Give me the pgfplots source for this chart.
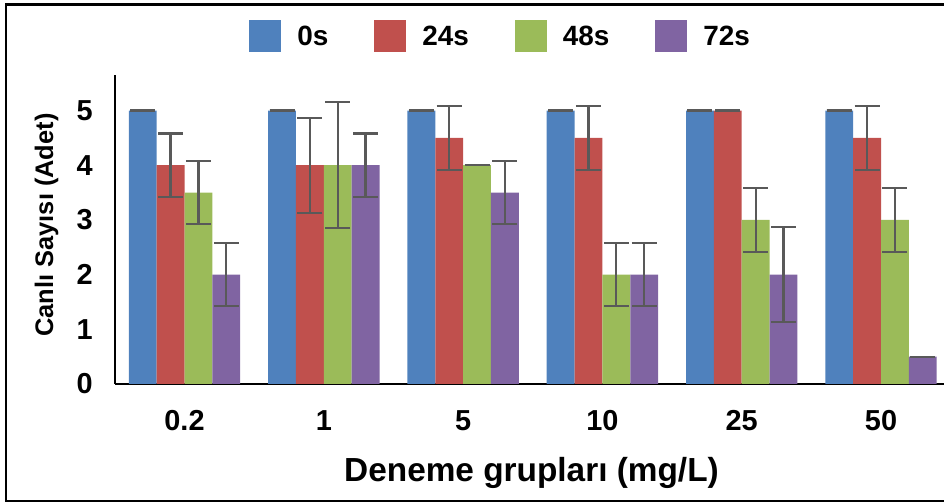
\documentclass[border=0pt]{standalone}
\usepackage{pgfplots}
\usepackage{pgfplotstable}
\pgfplotsset{compat=1.18}
\usepackage{fontspec}
\setmainfont{Liberation Sans}
\definecolor{c0}{HTML}{4F81BD}
\definecolor{c1}{HTML}{C0504D}
\definecolor{c2}{HTML}{9BBB59}
\definecolor{c3}{HTML}{8064A2}
\definecolor{errc}{HTML}{595959}
\pgfplotstableread{
x y e
0 5 0
1 5 0
2 5 0
3 5 0
4 5 0
5 5 0
}\tzero
\pgfplotstableread{
x y e
0 4 0.58
1 4 0.87
2 4.5 0.58
3 4.5 0.58
4 5 0
5 4.5 0.58
}\ttwentyfour
\pgfplotstableread{
x y e
0 3.5 0.58
1 4 1.15
2 4 0
3 2 0.58
4 3 0.58
5 3 0.58
}\tfortyeight
\pgfplotstableread{
x y e
0 2 0.58
1 4 0.58
2 3.5 0.58
3 2 0.58
4 2 0.87
5 0.5 0
}\tseventytwo
\begin{document}
\begin{tikzpicture}
\useasboundingbox (0bp,0bp) rectangle (944bp,503bp);
\draw[line width=2.5bp] (950bp,498.5bp) -- (6bp,498.5bp) -- (6bp,2bp) -- (950bp,2bp);
\begin{axis}[
  at={(114.85bp,119bp)}, anchor=south west,
  scale only axis, width=828.85bp, height=309bp,
  xmin=-0.5, xmax=5.45, ymin=0, ymax=5.65,
  axis lines*=left,
  axis line style={line width=2bp, black},
  xtick={0,...,5}, xticklabels={0.2,1,5,10,25,50},
  ytick={0,...,5},
  major tick length=0pt,
  /pgf/number format/assume math mode=true,
  yticklabel style={font=\bfseries\fontsize{29}{30}\selectfont, anchor=east, inner sep=0pt, xshift=-22bp},
  xticklabel style={font=\bfseries\fontsize{29}{30}\selectfont, anchor=center, inner sep=0pt, yshift=-37bp},
  clip=false,
  legend columns=4,
  legend style={draw=none, fill=none, at={(0.4642,1.126)}, anchor=center,
    inner sep=0pt, outer sep=0pt,
    font=\bfseries\fontsize{28}{28}\selectfont,
    nodes={inner sep=0pt},
    /tikz/every odd column/.append style={column sep=16bp},
    /tikz/every even column/.append style={column sep=46bp}},
  error bars/y dir=both, error bars/y explicit,
  error bars/error bar style={line width=2.2bp, draw=errc},
  error bars/error mark options={rotate=90, line width=2.2bp, mark size=12.5bp, draw=errc},
]
\addplot[ybar, bar width=0.2, bar shift=0, fill=c0, draw=none,
  legend image code/.code={\fill[c0] (0bp,-16bp) rectangle (32bp,16bp);}]
  table[x expr=\thisrow{x}-0.3, y=y, y error=e] {\tzero};
\addlegendentry{0s}
\addplot[ybar, bar width=0.2, bar shift=0, fill=c1, draw=none,
  legend image code/.code={\fill[c1] (0bp,-16bp) rectangle (32bp,16bp);}]
  table[x expr=\thisrow{x}-0.1, y=y, y error=e] {\ttwentyfour};
\addlegendentry{24s}
\addplot[ybar, bar width=0.2, bar shift=0, fill=c2, draw=none,
  legend image code/.code={\fill[c2] (0bp,-16bp) rectangle (32bp,16bp);}]
  table[x expr=\thisrow{x}+0.1, y=y, y error=e] {\tfortyeight};
\addlegendentry{48s}
\addplot[ybar, bar width=0.2, bar shift=0, fill=c3, draw=none,
  legend image code/.code={\fill[c3] (0bp,-16bp) rectangle (32bp,16bp);}]
  table[x expr=\thisrow{x}+0.3, y=y, y error=e] {\tseventytwo};
\addlegendentry{72s}
\end{axis}
\node[rotate=90, anchor=base, font=\bfseries\fontsize{25.5}{26}\selectfont] at (53bp,278bp) {Canlı Sayısı (Adet)};
\node[anchor=base, font=\bfseries\fontsize{33.5}{34}\selectfont] at (531.5bp,21.3bp) {Deneme grupları (mg/L)};
\end{tikzpicture}
\end{document}
